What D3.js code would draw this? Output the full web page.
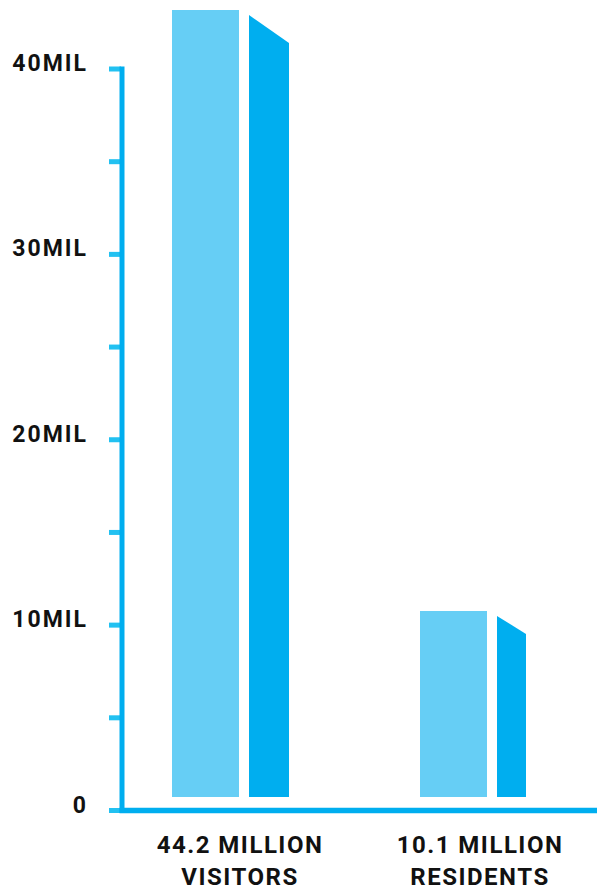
<!DOCTYPE html>
<html>
<head>
<meta charset="utf-8">
<script src="https://cdn.jsdelivr.net/npm/d3@7"></script>
<style>
  html, body { margin: 0; padding: 0; background: #ffffff; }
  svg { display: block; }
  text { font-family: Roboto, "DejaVu Sans", sans-serif; font-weight: 700; fill: #111111; }
</style>
</head>
<body>
<svg id="chart" width="597" height="889"></svg>
<script>
// ---- data ----
const categories = ["Visitors", "Residents"];
const values = [44.2, 10.1];                 // millions of people
const tickValues = [0, 5, 10, 15, 20, 25, 30, 35, 40];
const labelledTicks = [0, 10, 20, 30, 40];
const tickLabels = ["0", "10MIL", "20MIL", "30MIL", "40MIL"];

// ---- layout / style ----
const W = 597, H = 889;
const colors = { front: "#66cef5", side: "#00aeef", axis: "#00aeef", tick: "#22c1f1" };
const axisX = 122, axisW = 5;
const frontW = 67, gap = 10;
const sideWidths = [40, 29];   // depth face width per bar
const sideDrops = [28, 18];    // fall of the slanted top of the depth face
const barBottom = 797;

const svg = d3.select("#chart");

// axis scale (tick positions)
const y = d3.scaleLinear().domain([0, 40]).range([810.5, 69]);
// bar scale
const yBar = d3.scaleLinear().domain([0, d3.max(values)]).range([789, 10]);
// horizontal placement
const xBar = d3.scalePoint().domain(categories).range([172, 420]);
const xLabel = d3.scalePoint().domain(categories).range([240, 480]);

// ---- bars ----
const bars = svg.append("g").selectAll("g")
  .data(categories.map((c, i) => ({ c, v: values[i], i })))
  .join("g");

bars.append("rect")
  .attr("x", d => xBar(d.c))
  .attr("y", d => yBar(d.v))
  .attr("width", frontW)
  .attr("height", d => barBottom - yBar(d.v))
  .attr("fill", colors.front);

bars.append("path")
  .attr("fill", colors.side)
  .attr("d", d => {
    const x0 = xBar(d.c) + frontW + gap;
    const x1 = x0 + sideWidths[d.i];
    const t = yBar(d.v) + 5;
    return `M${x0},${t} L${x1},${t + sideDrops[d.i]} L${x1},${barBottom} L${x0},${barBottom} Z`;
  });

// ---- axes ----
const axis = svg.append("g");
axis.selectAll("rect.tick")
  .data(tickValues)
  .join("rect")
  .attr("class", "tick")
  .attr("x", axisX - 13)
  .attr("y", d => y(d) - 2.5)
  .attr("width", 12)
  .attr("height", 5)
  .attr("fill", colors.tick);

axis.append("line")
  .attr("x1", axisX).attr("x2", axisX)
  .attr("y1", y(40) - 2.5).attr("y2", y(0) + 2.5)
  .attr("stroke", colors.axis).attr("stroke-width", axisW);

axis.append("line")
  .attr("x1", axisX - 2.5).attr("x2", W)
  .attr("y1", y(0)).attr("y2", y(0))
  .attr("stroke", colors.axis).attr("stroke-width", 5.5);

axis.selectAll("text.ylab")
  .data(labelledTicks)
  .join("text")
  .attr("class", "ylab")
  .attr("x", 88)
  .attr("y", d => y(d) + 2)
  .attr("text-anchor", "end")
  .attr("font-size", 23)
  .attr("letter-spacing", "2px")
  .text((d, i) => tickLabels[i]);

// ---- category labels ----
const labels = svg.append("g").selectAll("text")
  .data(categories.map((c, i) => ({ c, v: values[i] })))
  .join("text")
  .attr("text-anchor", "middle")
  .attr("font-size", 24)
  .attr("letter-spacing", "1.5px");

labels.append("tspan")
  .attr("x", d => xLabel(d.c))
  .attr("y", 853)
  .text(d => `${d.v} MILLION`);
labels.append("tspan")
  .attr("x", d => xLabel(d.c))
  .attr("y", 885)
  .text(d => d.c.toUpperCase());
</script>
</body>
</html>
